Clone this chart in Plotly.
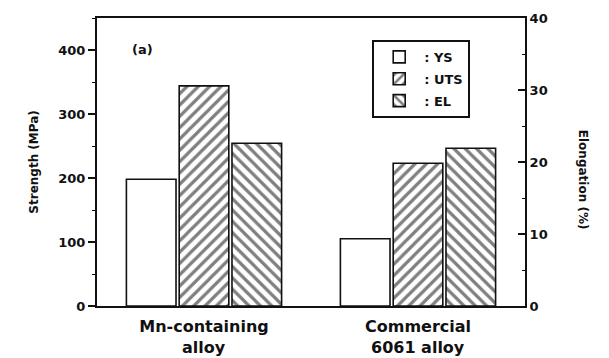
import plotly.graph_objects as go

# Alloys compared and their tensile properties
alloys = ["Mn-containing", "Commercial"]
alloy_second_line = ["alloy", "6061 alloy"]
ys_mpa = [198, 105]      # yield strength
uts_mpa = [344, 223]     # ultimate tensile strength
el_pct = [22.6, 21.9]    # elongation

strength_ticks = [0, 100, 200, 300, 400]
elong_ticks = [0, 10, 20, 30, 40]

INK = "#111111"
FONT = "DejaVu Sans"

bar_line = dict(color=INK, width=1.6)
hatch = dict(fgcolor="black", bgcolor="white", size=8, solidity=0.4)

fig = go.Figure()
fig.add_trace(go.Bar(
    x=alloys, y=ys_mpa, name=": YS", legendgroup="ys",
    marker=dict(color="white", line=bar_line),
    offsetgroup="ys", alignmentgroup="all",
))
fig.add_trace(go.Bar(
    x=alloys, y=uts_mpa, name=": UTS", legendgroup="uts",
    marker=dict(color="white", line=bar_line, pattern=dict(shape="/", **hatch)),
    offsetgroup="uts", alignmentgroup="all",
))
fig.add_trace(go.Bar(
    x=alloys, y=el_pct, name=": EL", yaxis="y2", legendgroup="el",
    marker=dict(color="white", line=bar_line, pattern=dict(shape="\\", **hatch)),
    offsetgroup="el", alignmentgroup="all",
))

tick_font = dict(family=FONT, size=13, color=INK, weight="bold")
label_font = dict(family=FONT, size=16, color=INK, weight="bold")
title_font = dict(family=FONT, size=12, color=INK, weight="bold")

annotations = [
    dict(text="Strength (MPa)", xref="paper", yref="paper",
         x=-0.148, y=0.5, xanchor="center", textangle=-90, showarrow=False,
         font=title_font),
    dict(text="Elongation (%)", xref="paper", yref="paper",
         x=1.136, y=0.4375, xanchor="center", textangle=90, showarrow=False,
         font=title_font),
    dict(text="(a)", xref="paper", yref="paper",
         x=0.077, y=0.924, showarrow=False,
         font=dict(family=FONT, size=13, color=INK, weight="bold")),
]
# second line of each category label, set below its tick label
for name, extra in zip(alloys, alloy_second_line):
    annotations.append(dict(
        text=extra, x=name, xref="x", y=0, yref="paper",
        yanchor="middle", yshift=-41, showarrow=False, font=label_font,
    ))

fig.update_layout(
    width=609, height=358,
    margin=dict(l=97, r=84, t=18, b=52),
    paper_bgcolor="white", plot_bgcolor="white",
    barmode="group", bargap=0.26, bargroupgap=0.06,
    showlegend=True,
    legend=dict(
        x=0.643, y=0.924, xanchor="left", yanchor="top",
        bgcolor="white", bordercolor=INK, borderwidth=2,
        font=dict(family=FONT, size=13, color=INK, weight="bold"),
        traceorder="grouped", tracegroupgap=2, itemwidth=40,
    ),
    xaxis=dict(
        showline=True, linecolor=INK, linewidth=2, mirror=True,
        ticks="", showgrid=False, zeroline=False,
        tickfont=label_font, ticklabelstandoff=5,
    ),
    yaxis=dict(
        range=[0, 450], tickvals=strength_ticks,
        showline=True, linecolor=INK, linewidth=2,
        ticks="outside", ticklen=7, tickwidth=1.5, tickcolor=INK,
        minor=dict(dtick=50, ticks="outside", ticklen=3, tickcolor=INK, tickwidth=1.2),
        showgrid=False, zeroline=False, tickfont=tick_font,
    ),
    yaxis2=dict(
        range=[0, 40], tickvals=elong_ticks,
        overlaying="y", side="right",
        showline=True, linecolor=INK, linewidth=2,
        ticks="inside", ticklen=7, tickwidth=1.5, tickcolor=INK,
        minor=dict(dtick=5, ticks="inside", ticklen=3, tickcolor=INK, tickwidth=1.2),
        showgrid=False, zeroline=False, tickfont=tick_font,
    ),
    annotations=annotations,
)

fig.write_html("out.html")
